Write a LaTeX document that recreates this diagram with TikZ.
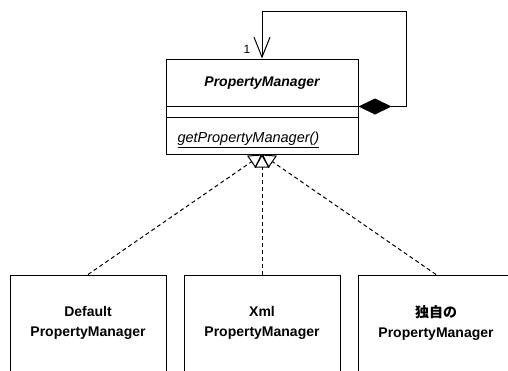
\documentclass[tikz,border=0pt]{standalone}
\usepackage{fontspec}
\setmainfont{Liberation Sans}
\newfontfamily\jpfont{Noto Sans CJK JP}
\usetikzlibrary{arrows.meta}

\begin{document}
\begin{tikzpicture}[x=1pt, y=-1pt, line width=1pt,
    every node/.style={font=\fontsize{14}{20}\selectfont},
    classbox/.style={draw, minimum width=192pt, minimum height=95pt, inner sep=0pt},
    implbox/.style={draw, minimum width=156pt, minimum height=96pt, inner sep=0pt, align=center, font=\fontsize{14}{20}\selectfont\bfseries},
    realize/.style={dash pattern=on 4pt off 3pt, -{Triangle[open, length=13pt, width=15pt]}},
    composition/.style={{Diamond[length=33pt, width=16pt]}-{Straight Barb[length=20pt, width=16pt]}}]
    \useasboundingbox (0,0) rectangle (508,370);
    % abstract class with its compartments
    \node[classbox] (pm) at (262,106.5) {};
    \draw (pm.west) -- (pm.east);
    \draw ([yshift=-11pt]pm.west) -- ([yshift=-11pt]pm.east);
    \node[font=\fontsize{14}{20}\selectfont\bfseries\itshape] (pmname) at (262,83) {PropertyManager};
    \node[anchor=west, inner sep=0pt, font=\fontsize{14.5}{20}\selectfont\itshape] (pmop) at (177,140) {\underline{getPropertyManager()}};
    % self association (singleton)
    \coordinate (loop) at (406,11);
    \draw[composition] (pm.east) -| (loop) -| (pm.north);
    \node[font=\fontsize{12}{14}\selectfont] (mult) at (247,49) {1};
    % implementations
    \node[implbox] (default) at (88,323) {Default\\PropertyManager};
    \node[implbox] (xml) at (262,323) {Xml\\PropertyManager};
    \node[implbox] (custom) at (436,323) {{\jpfont\bfseries 独自の}\\PropertyManager};
    \draw[realize] (default.north) -- (pm.south);
    \draw[realize] (xml.north) -- (pm.south);
    \draw[realize] (custom.north) -- (pm.south);
\end{tikzpicture}
\end{document}
